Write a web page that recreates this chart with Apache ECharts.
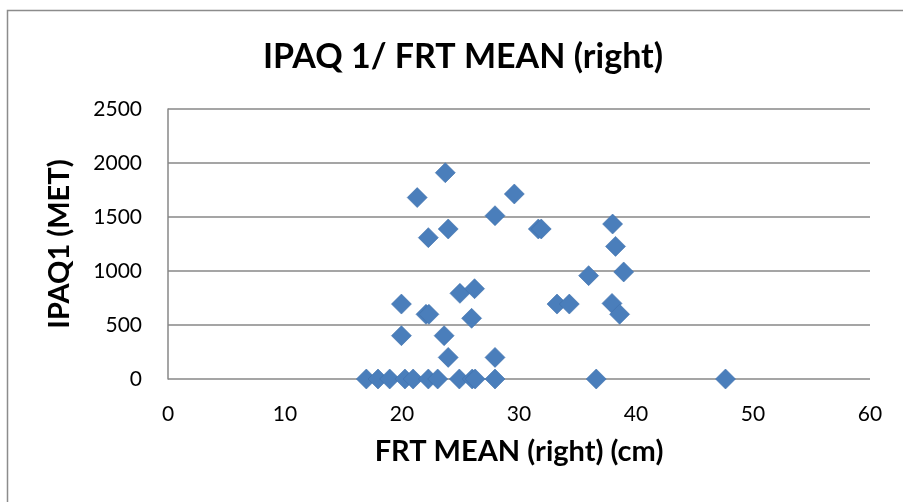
<!DOCTYPE html>
<html>
<head>
<meta charset="utf-8">
<script src="https://cdn.jsdelivr.net/npm/echarts@6/dist/echarts.min.js"></script>
<style>
  html, body { margin: 0; padding: 0; background: #fff; }
  #chart { width: 903px; height: 502px; }
</style>
</head>
<body>
<div id="chart"></div>
<script>
// FRT mean reach (right side, cm) against IPAQ1 activity score (MET)
const frtMean = [
  23.7, 21.3, 29.6, 27.95, 23.95, 22.25, 31.65, 31.9, 38.0, 38.25,
  38.95, 35.95, 33.25, 34.3, 37.95, 38.6, 19.95, 24.95, 26.2, 22.05,
  22.3, 25.95, 19.95, 23.6, 23.95, 27.95,
  16.95, 17.95, 18.95, 20.25, 20.95, 22.25, 23.05, 24.9, 26.0, 26.25,
  27.95, 36.6, 47.65
];
const ipaq1 = [
  1910, 1680, 1713, 1512, 1389, 1309, 1389, 1389, 1435, 1228,
  991, 957, 694, 694, 700, 599, 694, 793, 836, 599,
  599, 562, 401, 401, 200, 200,
  0, 0, 0, 0, 0, 0, 0, 0, 0, 0,
  0, 0, 0
];
const xTicks = { min: 0, max: 60, step: 10 };
const yTicks = { min: 0, max: 2500, step: 500 };

const points = frtMean.map((x, i) => [x, ipaq1[i]]);
const font = 'Lato, "Open Sans", sans-serif';
const gridColor = '#878787';

const chart = echarts.init(document.getElementById('chart'), null, { renderer: 'canvas' });
chart.setOption({
  backgroundColor: '#ffffff',
  animation: false,
  title: {
    text: 'IPAQ 1/ FRT MEAN (right)',
    left: 458,
    top: 35,
    textAlign: 'center',
    textStyle: { fontFamily: font, fontWeight: 'bold', fontSize: 34, color: '#000' }
  },
  graphic: [{
    type: 'rect',
    shape: { x: 7.5, y: 10.5, width: 1000, height: 600 },
    style: { fill: null, stroke: '#8c8c8c', lineWidth: 1.5 },
    silent: true
  }],
  grid: { left: 168, right: 33, top: 109, bottom: 123, containLabel: false },
  xAxis: {
    type: 'value',
    min: xTicks.min, max: xTicks.max, interval: xTicks.step,
    name: 'FRT MEAN (right) (cm)',
    nameLocation: 'middle',
    nameGap: 58,
    nameTextStyle: { fontFamily: font, fontWeight: 'bold', fontSize: 29, color: '#000' },
    axisLine: { show: false },
    axisTick: { show: false },
    splitLine: { show: false },
    axisLabel: { fontFamily: font, fontSize: 21, color: '#000', margin: 25 }
  },
  yAxis: {
    type: 'value',
    min: yTicks.min, max: yTicks.max, interval: yTicks.step,
    name: 'IPAQ1 (MET)',
    nameLocation: 'middle',
    nameRotate: 90,
    nameGap: 94,
    nameTextStyle: { fontFamily: font, fontWeight: 'bold', fontSize: 29, color: '#000' },
    axisLine: { show: true, lineStyle: { color: gridColor, width: 1.5 } },
    axisTick: { show: false },
    splitLine: { show: true, lineStyle: { color: gridColor, width: 1.5 } },
    axisLabel: { fontFamily: font, fontSize: 21, color: '#000', margin: 26, formatter: v => String(v) }
  },
  series: [{
    type: 'scatter',
    data: points,
    symbol: 'diamond',
    symbolSize: [20, 20],
    itemStyle: { color: '#4a7ebb', borderColor: '#3f70ab', borderWidth: 0.6, opacity: 1 }
  }]
});
</script>
</body>
</html>
